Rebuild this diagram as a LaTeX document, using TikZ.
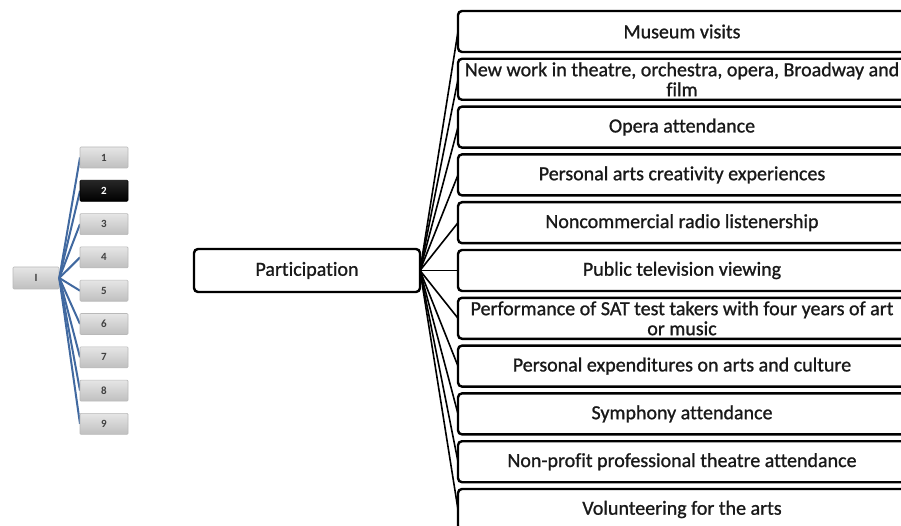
\documentclass[tikz,border=0pt]{standalone}
\usepackage{fontspec}
\setmainfont{Carlito}[Ligatures={NoCommon}]
\newfontfamily\boxfont{Carlito}[Ligatures={NoCommon},FakeBold=1]
\begin{document}
\begin{tikzpicture}[x=1pt,y=-1pt,
  bigbox/.style={draw=black,line width=2.4pt,rounded corners=4pt,fill=white,
    minimum width=448pt,minimum height=41pt,inner sep=0.5pt,align=center,
    font=\boxfont\fontsize{20}{20}\selectfont,text=black!90},
  rootbox/.style={draw=black,line width=2.4pt,rounded corners=4pt,fill=white,
    minimum width=226pt,minimum height=43pt,inner sep=1pt,
    font=\boxfont\fontsize{20}{20}\selectfont,text=black!90},
  graybox/.style={draw=gray!55,line width=0.6pt,rounded corners=1pt,top color=gray!20,bottom color=gray!50,
    minimum width=48pt,minimum height=21pt,inner sep=0pt,
    font=\fontsize{11}{11}\selectfont\bfseries,text=black!75},
  blackbox/.style={graybox,top color=black!85,bottom color=black,draw=black,text=white},
  bline/.style={draw={rgb,255:red,65;green,105;blue,160},line width=2pt},
  kline/.style={draw=black,line width=1.6pt}
]
\useasboundingbox (0,0) rectangle (901,526);
\begin{scope}
\clip (0,0) rectangle (901,526);
% left mini tree
\node[graybox,minimum width=46pt,minimum height=22pt] (I) at (36,278) {I};
\foreach \i in {1,...,9}{
  \coordinate (c\i) at (104,{157.5+33.3*(\i-1)});
}
\foreach \i in {1,...,9}{
  \draw[bline] (I.east) -- ([xshift=-24pt]c\i);
}
\node[graybox] (s1) at (c1) {1};
\node[blackbox] (s2) at (c2) {2};
\node[graybox] (s3) at (c3) {3};
\node[graybox] (s4) at (c4) {4};
\node[graybox] (s5) at (c5) {5};
\node[graybox] (s6) at (c6) {6};
\node[graybox] (s7) at (c7) {7};
\node[graybox] (s8) at (c8) {8};
\node[graybox] (s9) at (c9) {9};
% main tree: coordinates first, connectors, then boxes on top
\coordinate (pc) at (307,270.5);
\foreach \i in {1,...,11}{
  \coordinate (bc\i) at (682,{31.5+47.8*(\i-1)});
  \draw[kline] ([xshift=113pt]pc) -- ([xshift=-224pt]bc\i);
}
\node[rootbox] (P) at (pc) {Participation};
\node[bigbox] (b1) at (bc1) {Museum visits};
\node[bigbox] (b2) at (bc2) {New work in theatre, orchestra, opera, Broadway and\\film};
\node[bigbox] (b3) at (bc3) {Opera attendance};
\node[bigbox] (b4) at (bc4) {Personal arts creativity experiences};
\node[bigbox] (b5) at (bc5) {Noncommercial radio listenership};
\node[bigbox] (b6) at (bc6) {Public television viewing};
\node[bigbox] (b7) at (bc7) {Performance of SAT test takers with four years of art\\or music};
\node[bigbox] (b8) at (bc8) {Personal expenditures on arts and culture};
\node[bigbox] (b9) at (bc9) {Symphony attendance};
\node[bigbox] (b10) at (bc10) {Non-profit professional theatre attendance};
\node[bigbox] (b11) at (bc11) {Volunteering for the arts};
\end{scope}
\end{tikzpicture}
\end{document}
